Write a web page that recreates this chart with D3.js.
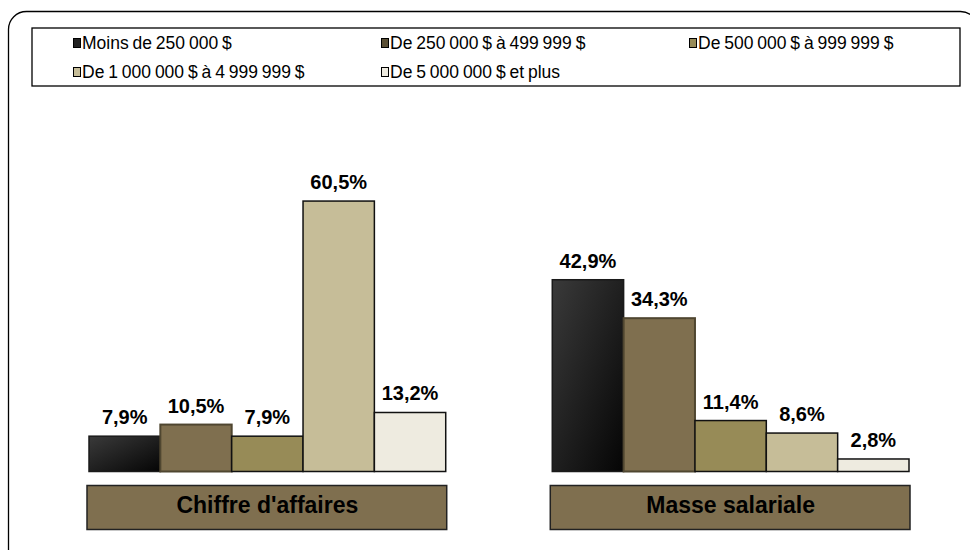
<!DOCTYPE html>
<html>
<head>
<meta charset="utf-8">
<script src="https://cdn.jsdelivr.net/npm/d3@7"></script>
<style>
  body { margin: 0; background: #fff; }
  svg { font-family: "Liberation Sans", Arial, sans-serif; }
</style>
</head>
<body>
<script>
var width = 970, height = 550;

// data
var groups = ["Chiffre d'affaires", "Masse salariale"];
var series = ["Moins de 250 000 $", "De 250 000 $ à 499 999 $", "De 500 000 $ à 999 999 $",
              "De 1 000 000 $ à 4 999 999 $", "De 5 000 000 $ et plus"];
var chiffre = [7.9, 10.5, 7.9, 60.5, 13.2];
var masse = [42.9, 34.3, 11.4, 8.6, 2.8];
var values = [chiffre, masse];

var fills = ["url(#darkGrad)", "#7f6f4f", "#978b57", "#c6bd98", "#eeebe0"];
var strokes = ["#1a1a1a", "#4f4630", "#111", "#111", "#111"];
var legendFills = ["#222", "#5a4f35", "#978b57", "#c6bd98", "#eeebe0"];

var svg = d3.select("body").append("svg")
    .attr("width", width)
    .attr("height", height);

var defs = svg.append("defs");
var grad = defs.append("linearGradient").attr("id", "darkGrad")
    .attr("x1", "0").attr("y1", "0").attr("x2", "1").attr("y2", "1");
grad.append("stop").attr("offset", "0%").attr("stop-color", "#3a3a3a");
grad.append("stop").attr("offset", "100%").attr("stop-color", "#050505");

// outer frame
svg.append("rect")
    .attr("x", 8.5).attr("y", 11.5)
    .attr("width", 970).attr("height", 560)
    .attr("rx", 18).attr("ry", 18)
    .attr("fill", "none").attr("stroke", "#000").attr("stroke-width", 1.3);

// legend
svg.append("rect")
    .attr("x", 32).attr("y", 28).attr("width", 928).attr("height", 58)
    .attr("fill", "#fff").attr("stroke", "#000").attr("stroke-width", 1.3);

var legendPos = [[73, 43], [381, 43], [689, 43], [73, 72], [381, 72]];
var leg = svg.selectAll(".legend")
    .data(series)
  .enter().append("g")
    .attr("class", "legend")
    .attr("transform", function(d, i) { return "translate(" + legendPos[i][0] + "," + legendPos[i][1] + ")"; });

leg.append("rect")
    .attr("x", 0.5).attr("y", -4.5).attr("width", 7).attr("height", 9)
    .attr("fill", function(d, i) { return legendFills[i]; })
    .attr("stroke", "#000").attr("stroke-width", 1);

leg.append("text")
    .attr("x", 9).attr("y", 5.5)
    .attr("font-size", 17.5)
    .attr("word-spacing", "-1")
    .text(function(d) { return d; });

// scales
var x0 = d3.scaleBand()
    .domain(groups)
    .range([89, 909])
    .paddingInner(0.23);

var x1 = d3.scaleBand()
    .domain(d3.range(series.length))
    .range([0, x0.bandwidth()]);

var y = d3.scaleLinear()
    .domain([0, 70])
    .range([471.5, 471.5 - 70 * 4.47]);

var group = svg.selectAll(".group")
    .data(groups)
  .enter().append("g")
    .attr("class", "group")
    .attr("transform", function(d) { return "translate(" + x0(d) + ",0)"; });

group.selectAll("rect.bar")
    .data(function(d, gi) { return values[gi]; })
  .enter().append("rect")
    .attr("class", "bar")
    .attr("x", function(d, i) { return x1(i); })
    .attr("y", function(d) { return y(d); })
    .attr("width", x1.bandwidth())
    .attr("height", function(d) { return y(0) - y(d); })
    .attr("fill", function(d, i) { return fills[i]; })
    .attr("stroke", function(d, i) { return strokes[i]; })
    .attr("stroke-width", function(d, i) { return i == 1 ? 2 : 1.5; });

group.selectAll("text.val")
    .data(function(d, gi) { return values[gi]; })
  .enter().append("text")
    .attr("class", "val")
    .attr("x", function(d, i) { return x1(i) + x1.bandwidth() / 2; })
    .attr("y", function(d) { return y(d) - 12; })
    .attr("text-anchor", "middle")
    .attr("font-size", 20)
    .attr("font-weight", "bold")
    .text(function(d) { return d.toFixed(1).replace(".", ",") + "%"; });

// category label boxes
group.append("rect")
    .attr("x", -2).attr("y", 485.5)
    .attr("width", x0.bandwidth() + 3).attr("height", 44)
    .attr("fill", "#7f6f4f").attr("stroke", "#222").attr("stroke-width", 1.5);

group.append("text")
    .attr("x", x0.bandwidth() / 2)
    .attr("y", 513)
    .attr("text-anchor", "middle")
    .attr("font-size", 23)
    .attr("font-weight", "bold")
    .text(function(d) { return d; });
</script>
</body>
</html>
